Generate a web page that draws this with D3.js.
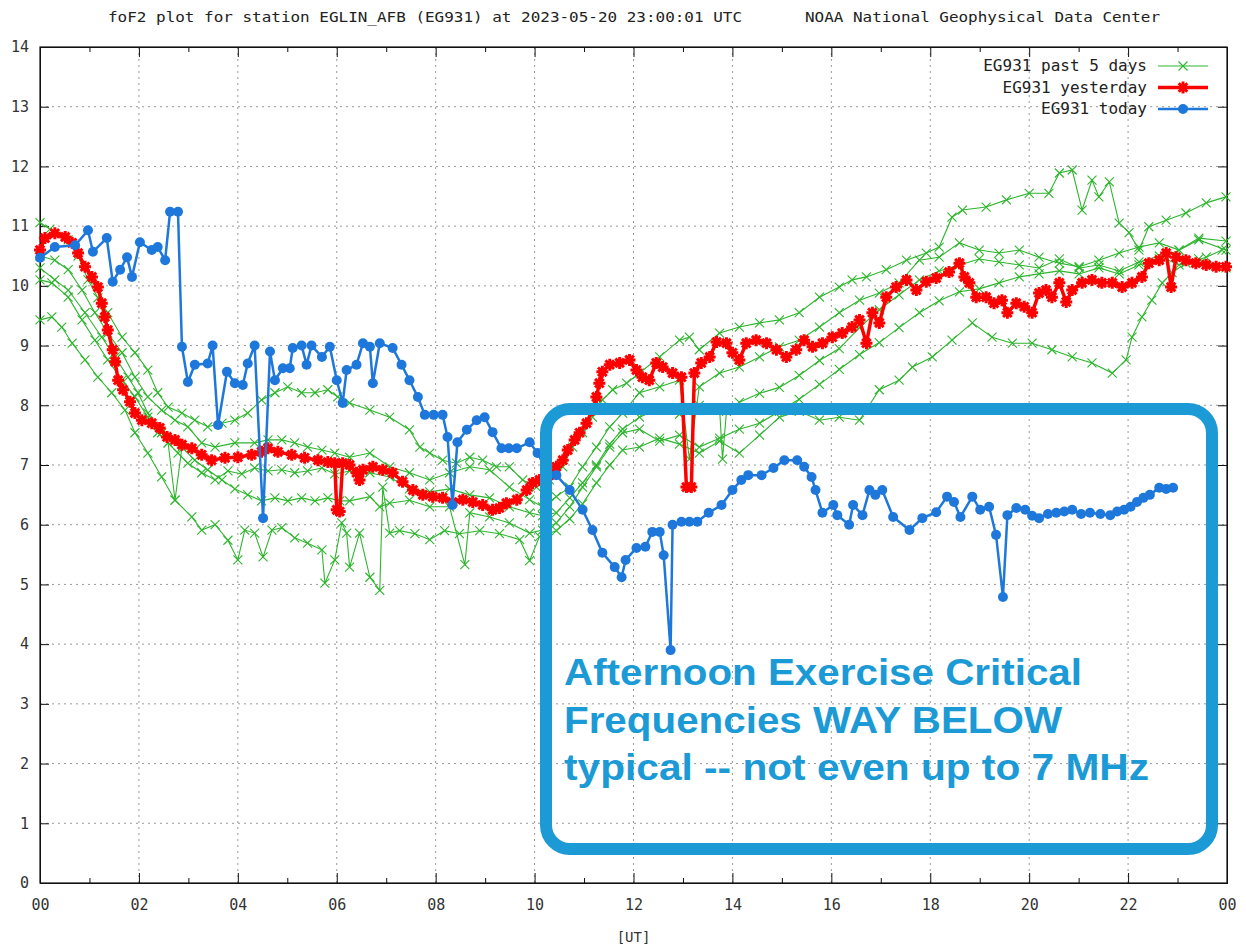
<!DOCTYPE html>
<html>
<head>
  <meta charset="utf-8">
  <script src="https://d3js.org/d3.v7.min.js"></script>
  <style>
    body { margin: 0; background: #fff; }
    svg { display: block; }
  </style>
</head>
<body>
<script>
// ---- data: [hour UT, foF2 MHz] ----
var titleLeft = "foF2 plot for station EGLIN_AFB (EG931) at 2023-05-20 23:00:01 UTC";
var titleRight = "NOAA National Geophysical Data Center";
var legendNames = ["EG931 past 5 days", "EG931 yesterday", "EG931 today"];
var hourTicks = [0, 2, 4, 6, 8, 10, 12, 14, 16, 18, 20, 22, 24];
var freqTicks = [0, 1, 2, 3, 4, 5, 6, 7, 8, 9, 10, 11, 12, 13, 14];
var noteLines = ["Afternoon Exercise Critical", "Frequencies WAY BELOW", "typical -- not even up to 7 MHz"];

var today = [
  [0.00,10.47],[0.30,10.65],[0.71,10.68],[0.97,10.93],[1.07,10.57],[1.35,10.8],[1.47,10.07],[1.62,10.27],
  [1.76,10.48],[1.86,10.15],[2.02,10.73],[2.26,10.6],[2.38,10.65],[2.53,10.43],[2.63,11.24],[2.79,11.24],
  [2.87,8.98],[2.99,8.39],[3.13,8.68],[3.39,8.7],[3.49,9.0],[3.60,7.67],[3.78,8.56],[3.94,8.37],
  [4.10,8.34],[4.20,8.7],[4.34,9.0],[4.51,6.11],[4.65,8.9],[4.75,8.42],[4.91,8.62],[5.05,8.62],
  [5.11,8.96],[5.29,9.0],[5.39,8.68],[5.49,9.0],[5.70,8.81],[5.86,8.98],[6.00,8.42],[6.12,8.04],
  [6.20,8.59],[6.40,8.68],[6.53,9.04],[6.67,8.98],[6.73,8.37],[6.87,9.04],[7.13,8.96],[7.31,8.68],
  [7.47,8.42],[7.64,8.14],[7.78,7.84],[7.96,7.84],[8.14,7.84],[8.24,7.47],[8.34,6.33],[8.44,7.38],
  [8.63,7.59],[8.83,7.75],[8.99,7.8],[9.15,7.55],[9.33,7.28],[9.48,7.28],[9.64,7.28],[9.90,7.38],
  [10.06,7.2],[10.24,6.92],[10.44,6.83],[10.71,6.58],[10.97,6.25],[11.17,5.91],[11.37,5.53],[11.62,5.29],
  [11.76,5.12],[11.84,5.41],[12.06,5.61],[12.24,5.63],[12.38,5.88],[12.53,5.88],[12.61,5.49],[12.75,3.9],
  [12.79,6.0],[12.97,6.05],[13.13,6.05],[13.29,6.05],[13.52,6.2],[13.78,6.33],[14.00,6.58],[14.18,6.75],
  [14.32,6.83],[14.59,6.83],[14.83,6.95],[15.05,7.08],[15.31,7.08],[15.45,6.97],[15.60,6.8],[15.68,6.58],
  [15.82,6.2],[16.04,6.33],[16.12,6.16],[16.36,6.0],[16.44,6.33],[16.63,6.16],[16.77,6.58],[16.89,6.5],
  [17.03,6.58],[17.25,6.13],[17.58,5.91],[17.84,6.11],[18.12,6.21],[18.34,6.47],[18.48,6.38],[18.61,6.13],
  [18.85,6.47],[19.01,6.25],[19.19,6.3],[19.33,5.83],[19.47,4.79],[19.56,6.16],[19.74,6.28],[19.92,6.25],
  [20.06,6.15],[20.20,6.11],[20.38,6.18],[20.55,6.2],[20.71,6.22],[20.87,6.25],[21.05,6.18],[21.23,6.2],
  [21.44,6.18],[21.64,6.16],[21.78,6.22],[21.92,6.25],[22.05,6.3],[22.18,6.38],[22.31,6.45],[22.44,6.5],
  [22.63,6.62],[22.77,6.6],[22.91,6.62]
];

var yesterday = [
  [0.00,10.6],[0.10,10.8],[0.30,10.88],[0.51,10.82],[0.65,10.72],[0.77,10.55],[0.91,10.32],[1.05,10.15],
  [1.17,9.98],[1.25,9.71],[1.31,9.48],[1.37,9.26],[1.47,8.93],[1.52,8.73],[1.58,8.42],[1.68,8.26],
  [1.82,8.06],[1.92,7.87],[2.06,7.75],[2.26,7.7],[2.42,7.62],[2.57,7.47],[2.73,7.42],[2.87,7.34],
  [3.07,7.28],[3.27,7.17],[3.47,7.08],[3.74,7.12],[4.00,7.13],[4.28,7.17],[4.48,7.22],[4.61,7.28],
  [4.81,7.22],[5.09,7.17],[5.35,7.12],[5.62,7.08],[5.82,7.05],[5.96,7.03],[6.00,6.25],[6.06,6.22],
  [6.12,7.03],[6.26,7.0],[6.40,6.87],[6.46,6.75],[6.53,6.92],[6.73,6.97],[6.93,6.92],[7.13,6.87],
  [7.33,6.72],[7.54,6.58],[7.74,6.5],[7.94,6.47],[8.14,6.45],[8.34,6.38],[8.55,6.42],[8.75,6.38],
  [8.95,6.33],[9.15,6.25],[9.29,6.28],[9.43,6.36],[9.64,6.42],[9.84,6.58],[9.96,6.7],[10.10,6.75],
  [10.30,6.83],[10.44,6.97],[10.57,7.08],[10.67,7.25],[10.81,7.42],[10.91,7.54],[11.05,7.7],[11.17,7.92],
  [11.25,8.14],[11.31,8.37],[11.37,8.56],[11.52,8.68],[11.72,8.71],[11.92,8.76],[12.06,8.59],[12.18,8.47],
  [12.32,8.42],[12.46,8.71],[12.59,8.64],[12.79,8.54],[12.97,8.47],[13.07,6.63],[13.17,6.63],[13.23,8.54],
  [13.37,8.71],[13.54,8.81],[13.68,9.06],[13.88,9.04],[14.00,8.88],[14.14,8.76],[14.28,9.04],[14.48,9.09],
  [14.69,9.04],[14.89,8.93],[15.09,8.81],[15.29,8.93],[15.45,9.09],[15.62,8.98],[15.82,9.04],[16.02,9.14],
  [16.22,9.21],[16.42,9.31],[16.57,9.43],[16.71,9.04],[16.83,9.55],[16.97,9.38],[17.11,9.81],[17.31,9.98],
  [17.52,10.1],[17.72,9.93],[17.92,10.07],[18.12,10.13],[18.38,10.23],[18.59,10.38],[18.69,10.15],[18.79,10.05],
  [18.93,9.81],[19.13,9.81],[19.29,9.71],[19.45,9.76],[19.56,9.55],[19.74,9.71],[19.90,9.65],[20.06,9.55],
  [20.20,9.88],[20.34,9.93],[20.46,9.81],[20.61,10.05],[20.75,9.73],[20.87,9.93],[21.07,10.05],[21.27,10.1],
  [21.47,10.05],[21.68,10.05],[21.88,9.98],[22.08,10.05],[22.28,10.15],[22.42,10.38],[22.63,10.43],[22.77,10.55],
  [22.87,9.98],[22.97,10.48],[23.17,10.43],[23.37,10.38],[23.58,10.35],[23.78,10.32],[23.98,10.32]
];

var pastDay1 = [
  [0.00,11.06],[0.20,10.95],[0.57,10.77],[0.77,10.5],[0.97,10.1],[1.17,9.8],[1.37,9.55],[1.66,9.14],
  [1.92,8.88],[2.18,8.59],[2.38,8.21],[2.59,7.97],[2.87,7.87],[3.13,7.75],[3.39,7.64],[3.68,7.7],
  [3.94,7.75],[4.20,7.87],[4.48,8.09],[4.75,8.21],[5.01,8.31],[5.29,8.21],[5.56,8.21],[5.82,8.26],
  [6.02,8.14],[6.26,8.04],[6.67,7.92],[7.07,7.8],[7.47,7.59],[7.68,7.3],[7.88,7.2],[8.14,7.08],
  [8.42,7.03],[8.69,7.13],[8.95,7.08],[9.23,6.97],[9.49,6.97],[9.76,6.75],[10.04,6.63],[10.30,6.75],
  [10.57,6.97],[10.77,7.3],[10.97,7.54],[11.17,7.8],[11.37,8.09],[11.58,8.26],[11.86,8.37],[12.12,8.54],
  [12.53,8.81],[12.93,9.09],[13.13,9.14],[13.33,8.93],[13.74,9.21],[14.14,9.31],[14.55,9.38],[14.95,9.43],
  [15.35,9.55],[15.76,9.81],[16.16,9.98],[16.42,10.1],[16.71,10.15],[17.11,10.27],[17.52,10.43],[17.92,10.55],
  [18.18,10.65],[18.44,11.15],[18.65,11.27],[19.13,11.32],[19.54,11.44],[20.00,11.55],[20.40,11.55],[20.61,11.89],
  [20.87,11.94],[21.07,11.27],[21.27,11.77],[21.41,11.49],[21.62,11.74],[21.82,11.05],[22.02,10.89],[22.22,10.6],
  [22.42,10.99],[22.77,11.1],[23.17,11.22],[23.58,11.39],[23.98,11.49]
];

var pastDay2 = [
  [0.00,10.5],[0.30,10.43],[0.57,10.27],[0.85,9.93],[1.11,9.55],[1.37,9.21],[1.66,8.88],[1.92,8.47],
  [2.18,8.14],[2.46,7.92],[2.73,7.75],[2.99,7.64],[3.27,7.37],[3.54,7.3],[3.94,7.37],[4.34,7.37],
  [4.61,7.42],[4.89,7.42],[5.15,7.37],[5.41,7.3],[5.70,7.25],[5.96,7.2],[6.26,7.13],[6.67,7.2],
  [7.07,6.97],[7.47,6.87],[7.88,6.75],[8.28,6.87],[8.69,6.97],[9.09,6.92],[9.49,6.63],[9.90,6.42],
  [10.16,6.3],[10.44,6.47],[10.71,6.63],[10.97,6.97],[11.25,7.3],[11.52,7.64],[11.78,7.87],[12.12,8.21],
  [12.53,8.31],[12.93,8.42],[13.13,7.1],[13.33,8.31],[13.74,8.54],[14.14,8.64],[14.55,8.81],[14.95,8.98],
  [15.35,9.09],[15.76,9.31],[16.16,9.55],[16.57,9.76],[16.97,9.88],[17.37,10.05],[17.78,10.43],[18.18,10.48],
  [18.59,10.72],[18.99,10.6],[19.39,10.55],[19.80,10.6],[20.20,10.48],[20.61,10.38],[21.01,10.32],[21.41,10.43],
  [21.82,10.55],[22.22,10.65],[22.63,10.72],[23.03,10.6],[23.43,10.77],[23.98,10.6]
];

var pastDay3 = [
  [0.00,10.3],[0.30,10.1],[0.57,9.93],[0.91,9.55],[1.25,9.14],[1.52,8.81],[1.78,8.47],[1.98,8.21],
  [2.18,7.87],[2.38,7.54],[2.59,7.37],[2.79,7.2],[2.99,7.03],[3.27,6.87],[3.54,6.75],[3.80,6.9],
  [4.08,6.85],[4.34,6.95],[4.61,6.9],[4.89,6.92],[5.15,6.87],[5.41,6.9],[5.70,6.95],[5.96,6.85],
  [6.26,6.9],[6.67,6.87],[7.07,6.8],[7.47,6.6],[7.88,6.55],[8.28,6.6],[8.69,6.5],[9.09,6.45],
  [9.49,6.3],[9.90,6.2],[10.16,6.15],[10.44,6.2],[10.71,6.45],[10.97,6.7],[11.25,7.0],[11.52,7.35],
  [11.78,7.6],[12.12,7.8],[12.53,7.95],[12.93,7.85],[13.33,8.0],[13.74,7.95],[13.80,7.1],[13.88,7.9],
  [14.14,8.05],[14.55,8.2],[14.95,8.3],[15.35,8.5],[15.76,8.75],[16.16,8.95],[16.57,9.3],[16.97,9.6],
  [17.37,9.85],[17.78,10.1],[18.18,10.25],[18.59,10.35],[18.99,10.45],[19.39,10.4],[19.80,10.35],[20.20,10.3],
  [20.61,10.45],[21.01,10.3],[21.41,10.35],[21.82,10.25],[22.22,10.4],[22.63,10.5],[23.03,10.35],[23.43,10.45],
  [23.98,10.3]
];

var pastDay4 = [
  [0.00,10.1],[0.24,10.05],[0.57,9.81],[0.85,9.43],[1.11,9.09],[1.37,8.76],[1.66,8.42],[1.92,8.14],
  [2.18,7.8],[2.46,7.54],[2.59,7.37],[2.73,6.41],[2.87,7.3],[3.13,7.08],[3.39,6.92],[3.68,6.75],
  [3.94,6.6],[4.20,6.5],[4.48,6.4],[4.75,6.45],[5.01,6.4],[5.29,6.45],[5.56,6.4],[5.82,6.45],
  [6.06,6.4],[6.26,6.4],[6.67,6.47],[6.87,6.3],[7.07,6.36],[7.47,6.41],[7.88,6.3],[8.28,6.3],
  [8.59,5.33],[8.69,6.2],[9.09,6.13],[9.49,6.03],[9.90,5.86],[10.16,5.91],[10.44,6.03],[10.71,6.3],
  [10.97,6.63],[11.25,6.97],[11.52,7.3],[11.78,7.54],[12.12,7.6],[12.53,7.4],[12.93,7.5],[13.33,7.3],
  [13.74,7.45],[14.14,7.6],[14.55,7.7],[14.95,7.9],[15.35,8.1],[15.76,8.35],[16.16,8.6],[16.57,8.85],
  [16.97,9.05],[17.37,9.3],[17.78,9.55],[18.18,9.75],[18.59,9.9],[18.99,9.95],[19.39,10.05],[19.80,10.15],
  [20.20,10.2],[20.61,10.25],[21.01,10.2],[21.41,10.3],[21.82,10.2],[22.22,10.35],[22.63,10.45],[23.03,10.6],
  [23.43,10.8],[23.98,10.75]
];

var pastDay5 = [
  [0.00,9.43],[0.24,9.48],[0.44,9.31],[0.65,9.04],[0.91,8.76],[1.17,8.47],[1.45,8.21],[1.72,7.92],
  [1.92,7.54],[2.18,7.2],[2.46,6.8],[2.73,6.41],[3.07,6.13],[3.27,5.91],[3.54,6.0],[3.80,5.74],
  [4.00,5.41],[4.14,5.91],[4.34,5.86],[4.51,5.46],[4.69,5.91],[4.89,5.95],[5.15,5.78],[5.41,5.69],
  [5.70,5.58],[5.76,5.02],[5.96,5.41],[6.10,6.03],[6.20,5.86],[6.26,5.29],[6.46,5.86],[6.67,5.12],
  [6.87,4.9],[6.93,6.63],[7.07,5.86],[7.27,5.9],[7.58,5.85],[7.88,5.75],[8.18,5.9],[8.48,5.85],
  [8.89,5.9],[9.29,5.85],[9.70,5.75],[9.90,5.4],[10.10,5.8],[10.44,5.9],[10.71,6.1],[10.97,6.35],
  [11.25,6.7],[11.52,7.0],[11.78,7.25],[12.12,7.3],[12.53,7.45],[12.93,7.35],[13.33,7.2],[13.74,7.4],
  [14.14,7.2],[14.55,7.5],[14.95,7.8],[15.35,7.9],[15.76,7.75],[16.16,7.8],[16.57,7.75],[16.97,8.26],
  [17.37,8.42],[17.64,8.64],[18.04,8.81],[18.44,9.09],[18.85,9.38],[19.25,9.14],[19.66,9.04],[20.06,9.04],
  [20.46,8.93],[20.87,8.81],[21.27,8.71],[21.68,8.54],[21.96,8.76],[22.08,9.14],[22.28,9.48],[22.48,9.76],
  [22.69,10.05],[22.89,10.22],[23.17,10.38],[23.58,10.48],[23.90,10.6]
];

var pastDays = [pastDay1, pastDay2, pastDay3, pastDay4, pastDay5];

// ---- setup ----
var width = 1246, height = 945;
var plotLeft = 40, plotRight = 1227, plotTop = 47, plotBottom = 883;

var green = "#2db52d", red = "#ff0000", blue = "#1e78dc", noteBlue = "#1b9ad6";

var svg = d3.select("body").append("svg")
  .attr("width", width)
  .attr("height", height)
  .style("font-family", "'DejaVu Sans Mono', monospace");

var x = d3.scaleLinear().domain([0, 24]).range([plotLeft, plotRight]);
var y = d3.scaleLinear().domain([0, 14]).range([plotBottom, plotTop]);

// title
svg.append("text")
  .attr("x", 108).attr("y", 22)
  .attr("textLength", 634).attr("lengthAdjust", "spacingAndGlyphs")
  .style("font-size", "14px").attr("fill", "#222")
  .text(titleLeft);
svg.append("text")
  .attr("x", 805).attr("y", 22)
  .attr("textLength", 355).attr("lengthAdjust", "spacingAndGlyphs")
  .style("font-size", "14px").attr("fill", "#222")
  .text(titleRight);

// dotted grid
var grid = svg.append("g").attr("stroke", "#999").attr("stroke-dasharray", "2,4");
grid.selectAll("line.gx")
  .data(hourTicks.filter(function(d) { return d > 0 && d < 24; }))
  .enter().append("line")
  .attr("x1", function(d) { return x(d); }).attr("x2", function(d) { return x(d); })
  .attr("y1", plotTop).attr("y2", plotBottom);
grid.selectAll("line.gy")
  .data(freqTicks.filter(function(d) { return d > 0 && d < 14; }))
  .enter().append("line")
  .attr("x1", plotLeft).attr("x2", plotRight)
  .attr("y1", function(d) { return y(d); }).attr("y2", function(d) { return y(d); });

// axes, ticks pointing inwards like gnuplot
var oddHours = d3.range(1, 24, 2);
var fmtHour = function(d) { return d3.format("02d")(d % 24); };

svg.append("g").attr("transform", "translate(0," + plotBottom + ")")
  .call(d3.axisBottom(x).tickValues(hourTicks).tickSize(-10).tickPadding(16).tickFormat(fmtHour));
svg.append("g").attr("transform", "translate(0," + plotBottom + ")")
  .call(d3.axisBottom(x).tickValues(oddHours).tickSize(-5).tickFormat(""));
svg.append("g").attr("transform", "translate(0," + plotTop + ")")
  .call(d3.axisTop(x).tickValues(hourTicks).tickSize(-10).tickFormat(""));
svg.append("g").attr("transform", "translate(0," + plotTop + ")")
  .call(d3.axisTop(x).tickValues(oddHours).tickSize(-5).tickFormat(""));
svg.append("g").attr("transform", "translate(" + plotLeft + ",0)")
  .call(d3.axisLeft(y).tickValues(freqTicks).tickSize(-9).tickPadding(11));
svg.append("g").attr("transform", "translate(" + plotRight + ",0)")
  .call(d3.axisRight(y).tickValues(freqTicks).tickSize(-9).tickFormat(""));

svg.selectAll(".domain").attr("stroke", "#111");
svg.selectAll(".tick line").attr("stroke", "#111");
svg.selectAll(".tick text")
  .attr("fill", "#333")
  .style("font-family", "'DejaVu Sans Mono', monospace")
  .style("font-size", "15px");

// frame
svg.append("rect")
  .attr("x", plotLeft).attr("y", plotTop)
  .attr("width", plotRight - plotLeft).attr("height", plotBottom - plotTop)
  .attr("fill", "none").attr("stroke", "#111").attr("stroke-width", 1.2);

svg.append("text")
  .attr("x", x(12)).attr("y", 942)
  .attr("text-anchor", "middle")
  .style("font-size", "14px").attr("fill", "#333")
  .text("[UT]");

var line = d3.line()
  .x(function(d) { return x(d[0]); })
  .y(function(d) { return y(d[1]); });

// markers
var crossPath = "M-4.5,-4.5L4.5,4.5M-4.5,4.5L4.5,-4.5";
var starPath = "M-6,0H6M0,-6V6M-4.3,-4.3L4.3,4.3M-4.3,4.3L4.3,-4.3";

// past 5 days (green)
pastDays.forEach(function(day) {
  var g = svg.append("g");
  g.append("path").datum(day)
    .attr("d", line).attr("fill", "none")
    .attr("stroke", green).attr("stroke-width", 1.1);
  g.selectAll("path.m").data(day).enter().append("path")
    .attr("d", crossPath)
    .attr("transform", function(d) { return "translate(" + x(d[0]) + "," + y(d[1]) + ")"; })
    .attr("stroke", green).attr("stroke-width", 1.1).attr("fill", "none");
});

// yesterday (red)
svg.append("path").datum(yesterday)
  .attr("d", line).attr("fill", "none")
  .attr("stroke", red).attr("stroke-width", 3.5);
svg.append("g").selectAll("path").data(yesterday).enter().append("path")
  .attr("d", starPath)
  .attr("transform", function(d) { return "translate(" + x(d[0]) + "," + y(d[1]) + ")"; })
  .attr("stroke", red).attr("stroke-width", 3).attr("fill", "none");

// today (blue)
svg.append("path").datum(today)
  .attr("d", line).attr("fill", "none")
  .attr("stroke", blue).attr("stroke-width", 2.5);
svg.append("g").selectAll("circle").data(today).enter().append("circle")
  .attr("cx", function(d) { return x(d[0]); })
  .attr("cy", function(d) { return y(d[1]); })
  .attr("r", 5)
  .attr("fill", blue);

// legend
var legend = svg.append("g");
var legendRows = legend.selectAll("g").data(legendNames).enter().append("g")
  .attr("transform", function(d, i) { return "translate(0," + (66 + i * 21.5) + ")"; });
legendRows.append("text")
  .attr("x", 1147).attr("y", 5)
  .attr("text-anchor", "end")
  .style("font-size", "16px").attr("fill", "#222")
  .text(function(d) { return d; });
legendRows.append("line")
  .attr("x1", 1158).attr("x2", 1208)
  .attr("stroke", function(d, i) { return [green, red, blue][i]; })
  .attr("stroke-width", function(d, i) { return [1.1, 3.5, 2.5][i]; });
legendRows.each(function(d, i) {
  var row = d3.select(this);
  if (i == 0) {
    row.append("path").attr("d", crossPath).attr("transform", "translate(1183,0)")
      .attr("stroke", green).attr("stroke-width", 1.1).attr("fill", "none");
  } else if (i == 1) {
    row.append("path").attr("d", starPath).attr("transform", "translate(1183,0)")
      .attr("stroke", red).attr("stroke-width", 3).attr("fill", "none");
  } else {
    row.append("circle").attr("cx", 1183).attr("r", 5).attr("fill", blue);
  }
});

// annotation box and text
svg.append("rect")
  .attr("x", 546).attr("y", 409)
  .attr("width", 666).attr("height", 440)
  .attr("rx", 24).attr("ry", 24)
  .attr("fill", "none")
  .attr("stroke", noteBlue).attr("stroke-width", 12);

var noteWidths = [518, 498, 585];
svg.append("g").selectAll("text").data(noteLines).enter().append("text")
  .attr("x", 564)
  .attr("y", function(d, i) { return 685 + i * 47.5; })
  .attr("textLength", function(d, i) { return noteWidths[i]; })
  .attr("lengthAdjust", "spacingAndGlyphs")
  .style("font-family", "'Liberation Sans', Arial, sans-serif")
  .style("font-weight", "bold")
  .style("font-size", "36px")
  .attr("fill", noteBlue)
  .text(function(d) { return d; });
</script>
</body>
</html>
